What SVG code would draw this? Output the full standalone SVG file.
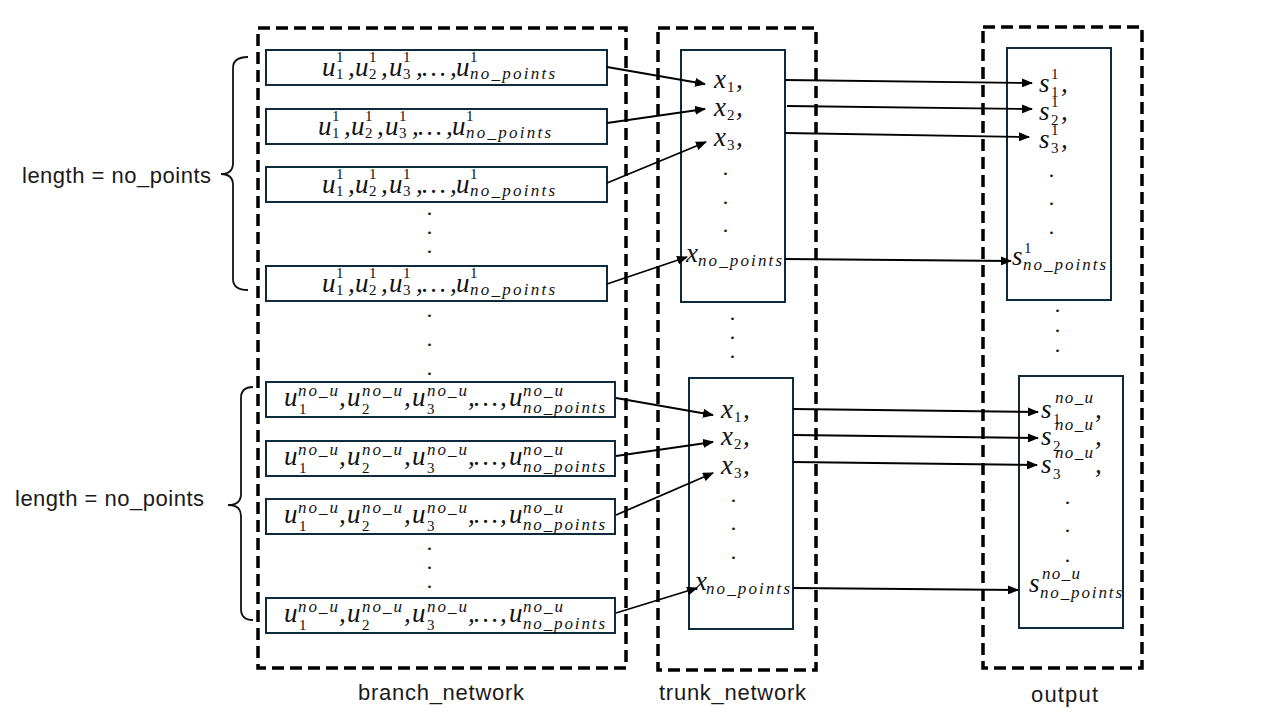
<svg xmlns="http://www.w3.org/2000/svg" width="1280" height="720" viewBox="0 0 1280 720">
<style>
.bg{fill:#fff}
.dash{fill:none;stroke:#000;stroke-width:3.5;stroke-dasharray:12 6}
.box{fill:#fff;stroke:#0f2a3d;stroke-width:2}
.m{font-family:"Liberation Serif","Times New Roman",serif;font-style:italic;font-size:27px;fill:#111}
.sc{font-size:17px}
.d{font-style:normal;font-size:15px}
.dot{font-family:"Liberation Serif",serif;font-style:italic;font-size:22px;fill:#111;text-anchor:middle}
.lbl{font-family:"Liberation Sans",Arial,sans-serif;font-size:22px;fill:#1a1a1a}
.br{fill:none;stroke:#111;stroke-width:1.8}
.ar{fill:none;stroke:#000;stroke-width:1.8;marker-end:url(#ah)}
</style>
<defs>
<marker id="ah" markerUnits="userSpaceOnUse" markerWidth="11" markerHeight="9" refX="10" refY="4.5" orient="auto">
<path d="M0,0 L11,4.5 L0,9 Z" fill="#000"/>
</marker>
</defs>
<rect class="bg" x="0" y="0" width="1280" height="720"/>

<g id="branch_network">
<rect class="dash" x="258" y="28" width="368" height="640"/>
<text class="lbl" x="358" y="700" textLength="166" lengthAdjust="spacing">branch_network</text>
</g>
<g id="trunk_network">
<rect class="dash" x="658" y="28" width="158" height="642"/>
<text class="lbl" x="659" y="700" textLength="147" lengthAdjust="spacing">trunk_network</text>
</g>
<g id="output">
<rect class="dash" x="983" y="27" width="159" height="641"/>
<text class="lbl" x="1031" y="702" textLength="67" lengthAdjust="spacing">output</text>
</g>

<g id="brace_top">
<path class="br" d="M248,57 Q233,57 233,68 L233,163 Q233,174 221,174 Q233,174 233,185 L233,279 Q233,290 248,290"/>
<text class="lbl" x="22" y="183" textLength="189" lengthAdjust="spacing">length = no_points</text>
</g>
<g id="brace_bottom">
<path class="br" d="M253,387 Q241,387 241,398 L241,494 Q241,505 228,505 Q241,505 241,516 L241,609 Q241,620 253,620"/>
<text class="lbl" x="15" y="506" textLength="189" lengthAdjust="spacing">length = no_points</text>
</g>

<g id="u1_row1">
<rect class="box" x="266" y="50" width="341" height="35"/>
<text class="m"><tspan x="322" y="76">u</tspan><tspan class="d" x="336" y="62">1</tspan><tspan class="d" x="336" y="79">1</tspan><tspan x="348" y="76">,</tspan><tspan x="355" y="76">u</tspan><tspan class="d" x="369" y="62">1</tspan><tspan class="d" x="369" y="79">2</tspan><tspan x="381" y="76">,</tspan><tspan x="389" y="76">u</tspan><tspan class="d" x="403" y="62">1</tspan><tspan class="d" x="403" y="79">3</tspan><tspan x="416" y="76">,</tspan><tspan x="422" y="76">…</tspan><tspan x="450" y="76">,</tspan><tspan x="456" y="76">u</tspan><tspan class="d" x="470" y="62">1</tspan><tspan class="sc" x="470" y="79" textLength="85" lengthAdjust="spacing">no_points</tspan></text>
</g>
<g id="u1_row2">
<rect class="box" x="266" y="109" width="341" height="35"/>
<text class="m"><tspan x="318" y="135">u</tspan><tspan class="d" x="332" y="121">1</tspan><tspan class="d" x="332" y="138">1</tspan><tspan x="344" y="135">,</tspan><tspan x="351" y="135">u</tspan><tspan class="d" x="365" y="121">1</tspan><tspan class="d" x="365" y="138">2</tspan><tspan x="377" y="135">,</tspan><tspan x="385" y="135">u</tspan><tspan class="d" x="399" y="121">1</tspan><tspan class="d" x="399" y="138">3</tspan><tspan x="412" y="135">,</tspan><tspan x="418" y="135">…</tspan><tspan x="446" y="135">,</tspan><tspan x="452" y="135">u</tspan><tspan class="d" x="466" y="121">1</tspan><tspan class="sc" x="466" y="138" textLength="85" lengthAdjust="spacing">no_points</tspan></text>
</g>
<g id="u1_row3">
<rect class="box" x="266" y="167" width="341" height="35"/>
<text class="m"><tspan x="322" y="193">u</tspan><tspan class="d" x="336" y="179">1</tspan><tspan class="d" x="336" y="196">1</tspan><tspan x="348" y="193">,</tspan><tspan x="355" y="193">u</tspan><tspan class="d" x="369" y="179">1</tspan><tspan class="d" x="369" y="196">2</tspan><tspan x="381" y="193">,</tspan><tspan x="389" y="193">u</tspan><tspan class="d" x="403" y="179">1</tspan><tspan class="d" x="403" y="196">3</tspan><tspan x="416" y="193">,</tspan><tspan x="422" y="193">…</tspan><tspan x="450" y="193">,</tspan><tspan x="456" y="193">u</tspan><tspan class="d" x="470" y="179">1</tspan><tspan class="sc" x="470" y="196" textLength="85" lengthAdjust="spacing">no_points</tspan></text>
</g>
<g id="branch_dots_top">
<text class="dot" x="430" y="215">.</text><text class="dot" x="430" y="234">.</text><text class="dot" x="430" y="253">.</text>
</g>
<g id="u1_row4">
<rect class="box" x="266" y="266" width="341" height="35"/>
<text class="m"><tspan x="322" y="292">u</tspan><tspan class="d" x="336" y="278">1</tspan><tspan class="d" x="336" y="295">1</tspan><tspan x="348" y="292">,</tspan><tspan x="355" y="292">u</tspan><tspan class="d" x="369" y="278">1</tspan><tspan class="d" x="369" y="295">2</tspan><tspan x="381" y="292">,</tspan><tspan x="389" y="292">u</tspan><tspan class="d" x="403" y="278">1</tspan><tspan class="d" x="403" y="295">3</tspan><tspan x="416" y="292">,</tspan><tspan x="422" y="292">…</tspan><tspan x="450" y="292">,</tspan><tspan x="456" y="292">u</tspan><tspan class="d" x="470" y="278">1</tspan><tspan class="sc" x="470" y="295" textLength="85" lengthAdjust="spacing">no_points</tspan></text>
</g>
<g id="branch_dots_mid">
<text class="dot" x="430" y="317">.</text><text class="dot" x="430" y="346">.</text><text class="dot" x="430" y="375">.</text>
</g>

<g id="unou_row1">
<rect class="box" x="266" y="382" width="349" height="35"/>
<text class="m"><tspan x="284" y="406">u</tspan><tspan class="sc" x="298" y="396" textLength="40" lengthAdjust="spacing">no_u</tspan><tspan class="d" x="299" y="414">1</tspan><tspan x="339" y="406">,</tspan><tspan x="347" y="406">u</tspan><tspan class="sc" x="362" y="396" textLength="40" lengthAdjust="spacing">no_u</tspan><tspan class="d" x="362" y="414">2</tspan><tspan x="404" y="406">,</tspan><tspan x="412" y="406">u</tspan><tspan class="sc" x="427" y="396" textLength="40" lengthAdjust="spacing">no_u</tspan><tspan class="d" x="427" y="414">3</tspan><tspan x="468" y="406">,</tspan><tspan x="474" y="406">…</tspan><tspan x="500" y="406">,</tspan><tspan x="509" y="406">u</tspan><tspan class="sc" x="523" y="396" textLength="40" lengthAdjust="spacing">no_u</tspan><tspan class="sc" x="523" y="413" textLength="82" lengthAdjust="spacing">no_points</tspan></text>
</g>
<g id="unou_row2">
<rect class="box" x="266" y="441" width="349" height="35"/>
<text class="m"><tspan x="284" y="465">u</tspan><tspan class="sc" x="298" y="455" textLength="40" lengthAdjust="spacing">no_u</tspan><tspan class="d" x="299" y="473">1</tspan><tspan x="339" y="465">,</tspan><tspan x="347" y="465">u</tspan><tspan class="sc" x="362" y="455" textLength="40" lengthAdjust="spacing">no_u</tspan><tspan class="d" x="362" y="473">2</tspan><tspan x="404" y="465">,</tspan><tspan x="412" y="465">u</tspan><tspan class="sc" x="427" y="455" textLength="40" lengthAdjust="spacing">no_u</tspan><tspan class="d" x="427" y="473">3</tspan><tspan x="468" y="465">,</tspan><tspan x="474" y="465">…</tspan><tspan x="500" y="465">,</tspan><tspan x="509" y="465">u</tspan><tspan class="sc" x="523" y="455" textLength="40" lengthAdjust="spacing">no_u</tspan><tspan class="sc" x="523" y="472" textLength="82" lengthAdjust="spacing">no_points</tspan></text>
</g>
<g id="unou_row3">
<rect class="box" x="266" y="499" width="349" height="35"/>
<text class="m"><tspan x="284" y="523">u</tspan><tspan class="sc" x="298" y="513" textLength="40" lengthAdjust="spacing">no_u</tspan><tspan class="d" x="299" y="531">1</tspan><tspan x="339" y="523">,</tspan><tspan x="347" y="523">u</tspan><tspan class="sc" x="362" y="513" textLength="40" lengthAdjust="spacing">no_u</tspan><tspan class="d" x="362" y="531">2</tspan><tspan x="404" y="523">,</tspan><tspan x="412" y="523">u</tspan><tspan class="sc" x="427" y="513" textLength="40" lengthAdjust="spacing">no_u</tspan><tspan class="d" x="427" y="531">3</tspan><tspan x="468" y="523">,</tspan><tspan x="474" y="523">…</tspan><tspan x="500" y="523">,</tspan><tspan x="509" y="523">u</tspan><tspan class="sc" x="523" y="513" textLength="40" lengthAdjust="spacing">no_u</tspan><tspan class="sc" x="523" y="530" textLength="82" lengthAdjust="spacing">no_points</tspan></text>
</g>
<g id="branch_dots_bottom">
<text class="dot" x="430" y="550">.</text><text class="dot" x="430" y="569">.</text><text class="dot" x="430" y="588">.</text>
</g>
<g id="unou_row4">
<rect class="box" x="266" y="598" width="349" height="35"/>
<text class="m"><tspan x="284" y="622">u</tspan><tspan class="sc" x="298" y="612" textLength="40" lengthAdjust="spacing">no_u</tspan><tspan class="d" x="299" y="630">1</tspan><tspan x="339" y="622">,</tspan><tspan x="347" y="622">u</tspan><tspan class="sc" x="362" y="612" textLength="40" lengthAdjust="spacing">no_u</tspan><tspan class="d" x="362" y="630">2</tspan><tspan x="404" y="622">,</tspan><tspan x="412" y="622">u</tspan><tspan class="sc" x="427" y="612" textLength="40" lengthAdjust="spacing">no_u</tspan><tspan class="d" x="427" y="630">3</tspan><tspan x="468" y="622">,</tspan><tspan x="474" y="622">…</tspan><tspan x="500" y="622">,</tspan><tspan x="509" y="622">u</tspan><tspan class="sc" x="523" y="612" textLength="40" lengthAdjust="spacing">no_u</tspan><tspan class="sc" x="523" y="629" textLength="82" lengthAdjust="spacing">no_points</tspan></text>
</g>

<g id="trunk_top">
<rect class="box" x="681" y="50" width="104" height="252"/>
<text class="m"><tspan x="714" y="88">x</tspan><tspan class="d" x="727" y="92">1</tspan><tspan x="736" y="88">,</tspan></text>
<text class="m"><tspan x="714" y="116">x</tspan><tspan class="d" x="727" y="120">2</tspan><tspan x="736" y="116">,</tspan></text>
<text class="m"><tspan x="714" y="146">x</tspan><tspan class="d" x="727" y="150">3</tspan><tspan x="736" y="146">,</tspan></text>
<text class="dot" x="726" y="175">.</text><text class="dot" x="726" y="204">.</text><text class="dot" x="726" y="232">.</text>
<text class="m"><tspan x="686" y="262">x</tspan><tspan class="sc" x="698" y="266" textLength="84" lengthAdjust="spacing">no_points</tspan></text>
</g>
<g id="trunk_dots_mid">
<text class="dot" x="733" y="320">.</text><text class="dot" x="733" y="339">.</text><text class="dot" x="733" y="358">.</text>
</g>
<g id="trunk_bottom">
<rect class="box" x="689" y="378" width="104" height="251"/>
<text class="m"><tspan x="721" y="418">x</tspan><tspan class="d" x="734" y="422">1</tspan><tspan x="743" y="418">,</tspan></text>
<text class="m"><tspan x="721" y="445">x</tspan><tspan class="d" x="734" y="449">2</tspan><tspan x="743" y="445">,</tspan></text>
<text class="m"><tspan x="721" y="474">x</tspan><tspan class="d" x="734" y="478">3</tspan><tspan x="743" y="474">,</tspan></text>
<text class="dot" x="734" y="502">.</text><text class="dot" x="734" y="530">.</text><text class="dot" x="734" y="559">.</text>
<text class="m"><tspan x="695" y="590">x</tspan><tspan class="sc" x="706" y="594" textLength="84" lengthAdjust="spacing">no_points</tspan></text>
</g>

<g id="output_top">
<rect class="box" x="1007" y="48" width="104" height="252"/>
<text class="m"><tspan x="1039" y="92">s</tspan><tspan class="d" x="1051" y="79">1</tspan><tspan class="d" x="1051" y="97">1</tspan><tspan x="1061" y="92">,</tspan></text>
<text class="m"><tspan x="1039" y="120">s</tspan><tspan class="d" x="1051" y="107">1</tspan><tspan class="d" x="1051" y="125">2</tspan><tspan x="1061" y="120">,</tspan></text>
<text class="m"><tspan x="1039" y="148">s</tspan><tspan class="d" x="1051" y="135">1</tspan><tspan class="d" x="1051" y="153">3</tspan><tspan x="1061" y="148">,</tspan></text>
<text class="dot" x="1052" y="177">.</text><text class="dot" x="1052" y="205">.</text><text class="dot" x="1052" y="234">.</text>
<text class="m"><tspan x="1012" y="265">s</tspan><tspan class="d" x="1024" y="253">1</tspan><tspan class="sc" x="1023" y="270" textLength="83" lengthAdjust="spacing">no_points</tspan></text>
</g>
<g id="output_dots_mid">
<text class="dot" x="1058" y="312">.</text><text class="dot" x="1058" y="332">.</text><text class="dot" x="1058" y="352">.</text>
</g>
<g id="output_bottom">
<rect class="box" x="1019" y="376" width="104" height="252"/>
<text class="m"><tspan x="1041" y="418">s</tspan><tspan class="sc" x="1055" y="403" textLength="38" lengthAdjust="spacing">no_u</tspan><tspan class="d" x="1053" y="424">1</tspan><tspan x="1095" y="418">,</tspan></text>
<text class="m"><tspan x="1041" y="445">s</tspan><tspan class="sc" x="1055" y="430" textLength="38" lengthAdjust="spacing">no_u</tspan><tspan class="d" x="1053" y="451">2</tspan><tspan x="1095" y="445">,</tspan></text>
<text class="m"><tspan x="1041" y="473">s</tspan><tspan class="sc" x="1055" y="458" textLength="38" lengthAdjust="spacing">no_u</tspan><tspan class="d" x="1053" y="479">3</tspan><tspan x="1095" y="473">,</tspan></text>
<text class="dot" x="1068" y="504">.</text><text class="dot" x="1068" y="532">.</text><text class="dot" x="1068" y="562">.</text>
<text class="m"><tspan x="1029" y="592">s</tspan><tspan class="sc" x="1042" y="579" textLength="38" lengthAdjust="spacing">no_u</tspan><tspan class="sc" x="1040" y="598" textLength="82" lengthAdjust="spacing">no_points</tspan></text>
</g>

<g id="connectors">
<line class="ar" x1="607" y1="67" x2="705" y2="84"/>
<line class="ar" x1="607" y1="123" x2="705" y2="109"/>
<line class="ar" x1="607" y1="183" x2="706" y2="142"/>
<line class="ar" x1="607" y1="284" x2="687" y2="257"/>
<line class="ar" x1="785" y1="80" x2="1032" y2="83"/>
<line class="ar" x1="787" y1="106" x2="1032" y2="109"/>
<line class="ar" x1="785" y1="133" x2="1029" y2="137"/>
<line class="ar" x1="785" y1="259" x2="1011" y2="261"/>
<line class="ar" x1="616" y1="398" x2="713" y2="415"/>
<line class="ar" x1="616" y1="456" x2="713" y2="442"/>
<line class="ar" x1="616" y1="515" x2="713" y2="473"/>
<line class="ar" x1="616" y1="613" x2="697" y2="588"/>
<line class="ar" x1="793" y1="409" x2="1038" y2="412"/>
<line class="ar" x1="793" y1="435" x2="1038" y2="438"/>
<line class="ar" x1="793" y1="462" x2="1037" y2="465"/>
<line class="ar" x1="793" y1="588" x2="1018" y2="590"/>
</g>
</svg>
